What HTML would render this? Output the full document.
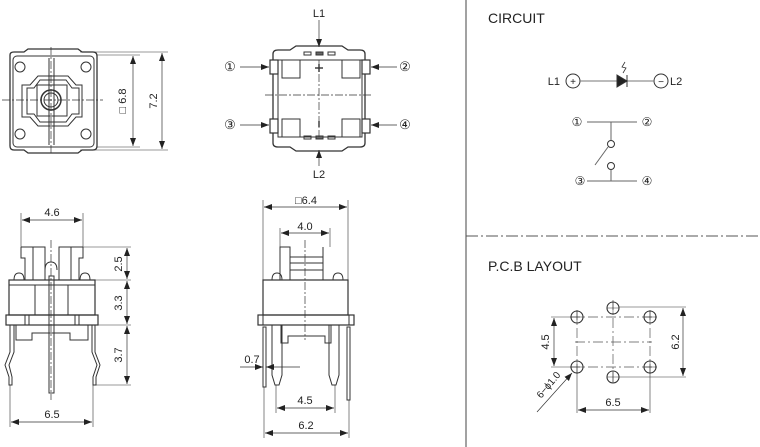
<!DOCTYPE html>
<html><head><meta charset="utf-8"><style>
html,body{margin:0;padding:0;background:#fff;}
svg{display:block;}
text{font-family:"Liberation Sans",sans-serif;fill:#222;}
</style></head><body>
<svg width="760" height="447" viewBox="0 0 760 447" xmlns="http://www.w3.org/2000/svg">
<defs>
<marker id="a" markerWidth="8" markerHeight="6" refX="8" refY="3" orient="auto-start-reverse" markerUnits="userSpaceOnUse"><path d="M0,0 L8,3 L0,6 z" fill="#222"/></marker>
</defs>
<g fill="none" stroke="#333" stroke-width="1">
<!-- dividers -->
<line x1="466" y1="0" x2="466" y2="447" stroke="#444"/>
<line x1="466" y1="236" x2="760" y2="236" stroke-dasharray="12,3,2,3" stroke="#555"/>

<!-- TOP VIEW LEFT -->
<path d="M10,55 Q10,52 14,52 L24,52 L28,49 L78,49 L82,52 L93,52 Q97,52 97,56 L97,146 Q97,150 93,150 L82,150 L78,153 L28,153 L24,150 L14,150 Q10,150 10,146 Z" stroke-width="1.3"/>
<rect x="13" y="56" width="81" height="91" rx="4"/>
<circle cx="20" cy="67" r="5"/><circle cx="86" cy="67" r="5"/>
<circle cx="20" cy="134" r="5"/><circle cx="86" cy="134" r="5"/>
<path d="M22,85 L30,85 L38,76 L68,76 L76,85 L82,85 L82,117 L76,117 L68,126 L38,126 L30,117 L22,117 Z"/>
<path d="M27,88 L34,88 L40,80 L66,80 L72,88 L79,88 L79,114 L72,114 L66,122 L40,122 L34,114 L27,114 Z"/>
<rect x="37" y="85" width="30" height="31"/>
<circle cx="51" cy="100" r="10" stroke-width="1.5"/>
<circle cx="51" cy="100" r="7"/>
<line x1="49" y1="58" x2="49" y2="145"/><line x1="54" y1="58" x2="54" y2="145"/>
<line x1="51" y1="47" x2="51" y2="155" stroke-dasharray="8,2,2,2" stroke-width="0.7"/>
<line x1="2" y1="100" x2="103" y2="100" stroke-dasharray="8,2,2,2" stroke-width="0.7"/>
<line x1="97" y1="55" x2="140" y2="55" stroke-width="0.6"/><line x1="97" y1="147" x2="140" y2="147" stroke-width="0.6"/>
<line x1="80" y1="52" x2="168" y2="52" stroke-width="0.6"/><line x1="80" y1="150" x2="168" y2="150" stroke-width="0.6"/>
<line x1="133" y1="56" x2="133" y2="146" marker-start="url(#a)" marker-end="url(#a)" stroke-width="0.7"/>
<line x1="162" y1="53" x2="162" y2="149" marker-start="url(#a)" marker-end="url(#a)" stroke-width="0.7"/>

<!-- TOP VIEW MIDDLE -->
<path d="M273,54 Q273,50 278,50 L290,50 L296,46 L342,46 L348,50 L360,50 Q365,50 365,54 L365,143 Q365,147 360,147 L348,147 L342,151 L296,151 L290,147 L278,147 Q273,147 273,143 Z" stroke-width="1.3"/>
<rect x="278" y="60" width="84" height="77"/>
<rect x="282" y="60" width="18" height="18"/><rect x="342" y="60" width="18" height="18"/>
<rect x="282" y="119" width="18" height="18"/><rect x="342" y="119" width="18" height="18"/>
<rect x="270" y="60" width="8" height="14" fill="#fff" stroke-width="1.2"/><rect x="362" y="60" width="8" height="14" fill="#fff" stroke-width="1.2"/>
<rect x="270" y="119" width="8" height="14" fill="#fff" stroke-width="1.2"/><rect x="362" y="119" width="8" height="14" fill="#fff" stroke-width="1.2"/>
<rect x="304" y="52" width="7" height="3"/><rect x="316" y="52" width="7" height="3" fill="#666"/><rect x="328" y="52" width="7" height="3"/>
<rect x="304" y="136" width="7" height="3"/><rect x="316" y="136" width="7" height="3" fill="#666"/><rect x="328" y="136" width="7" height="3"/>
<line x1="319" y1="60" x2="319" y2="137" stroke-dasharray="8,2,2,2" stroke-width="0.7"/>
<line x1="265" y1="95" x2="372" y2="95" stroke-dasharray="8,2,2,2" stroke-width="0.7"/>
<line x1="315" y1="68" x2="323" y2="68" stroke-width="1.4"/><line x1="319" y1="64" x2="319" y2="72" stroke-width="1.4"/>
<line x1="319" y1="121" x2="319" y2="127" stroke-width="1.4"/>
<line x1="319" y1="20" x2="319" y2="47" marker-end="url(#a)" stroke-width="0.7"/>
<line x1="319" y1="166" x2="319" y2="150" marker-end="url(#a)" stroke-width="0.7"/>
<line x1="240" y1="67" x2="269" y2="67" marker-end="url(#a)" stroke-width="0.7"/>
<line x1="240" y1="125" x2="269" y2="125" marker-end="url(#a)" stroke-width="0.7"/>
<line x1="397" y1="67" x2="371" y2="67" marker-end="url(#a)" stroke-width="0.7"/>
<line x1="397" y1="125" x2="371" y2="125" marker-end="url(#a)" stroke-width="0.7"/>

<!-- SIDE VIEW LEFT -->
<path d="M21,247 L45,247 L45,280 M21,247 L21,258 L25,258 L25,280 M83,247 L59,247 L59,280 M83,247 L83,258 L79,258 L79,280"/>
<line x1="33" y1="247" x2="33" y2="280"/><line x1="71" y1="247" x2="71" y2="280"/>
<path d="M45,270 Q45,262 51,262 Q57,262 57,270"/>
<path d="M14,280 Q14,273 19,273 Q24,273 24,280 M80,280 Q80,273 85,273 Q90,273 90,280"/>
<rect x="9" y="280" width="86" height="35" stroke-width="1.2"/>
<line x1="9" y1="285" x2="95" y2="285"/>
<line x1="35" y1="285" x2="35" y2="315"/><line x1="68" y1="285" x2="68" y2="315"/>
<rect x="6" y="315" width="92" height="10" stroke-width="1.2"/>
<line x1="25" y1="315" x2="25" y2="325"/><line x1="29" y1="315" x2="29" y2="325"/><line x1="75" y1="315" x2="75" y2="325"/><line x1="79" y1="315" x2="79" y2="325"/>
<path d="M16,325 L16,340 L32,340 L32,333 L70,333 L70,340 L88,340 L88,325"/>
<path d="M10,325 L10,352 L5,365 L9,377 L9,385 L12,385 L12,377 L9,365 L14,352 L14,325"/>
<path d="M92,325 L92,352 L97,365 L93,377 L93,385 L96,385 L96,377 L100,365 L95,352 L95,325"/>
<rect x="49" y="276" width="5" height="117"/>
<line x1="51" y1="240" x2="51" y2="400" stroke-dasharray="8,2,2,2" stroke-width="0.7"/>
<line x1="21" y1="213" x2="21" y2="247" stroke-width="0.6"/><line x1="83" y1="213" x2="83" y2="247" stroke-width="0.6"/>
<line x1="22" y1="220" x2="82" y2="220" marker-start="url(#a)" marker-end="url(#a)" stroke-width="0.7"/>
<line x1="10" y1="385" x2="10" y2="427" stroke-width="0.6"/><line x1="93" y1="385" x2="93" y2="427" stroke-width="0.6"/>
<line x1="11" y1="422" x2="92" y2="422" marker-start="url(#a)" marker-end="url(#a)" stroke-width="0.7"/>
<line x1="83" y1="247" x2="131" y2="247" stroke-width="0.6"/><line x1="95" y1="280" x2="131" y2="280" stroke-width="0.6"/>
<line x1="98" y1="325" x2="131" y2="325" stroke-width="0.6"/><line x1="96" y1="385" x2="131" y2="385" stroke-width="0.6"/>
<line x1="127" y1="248" x2="127" y2="279" marker-start="url(#a)" marker-end="url(#a)" stroke-width="0.7"/>
<line x1="127" y1="281" x2="127" y2="324" marker-start="url(#a)" marker-end="url(#a)" stroke-width="0.7"/>
<line x1="127" y1="326" x2="127" y2="384" marker-start="url(#a)" marker-end="url(#a)" stroke-width="0.7"/>

<!-- SIDE VIEW MIDDLE -->
<rect x="280" y="247" width="10" height="33"/>
<rect x="290" y="257" width="33" height="23"/>
<line x1="290" y1="263" x2="323" y2="263"/><line x1="290" y1="270" x2="323" y2="270"/>
<line x1="323" y1="247" x2="323" y2="257"/>
<path d="M272,280 Q272,273 277,273 Q282,273 282,280 M333,280 Q333,273 338,273 Q343,273 343,280"/>
<rect x="263" y="280" width="85" height="35" stroke-width="1.2"/>
<rect x="258" y="315" width="96" height="10" stroke-width="1.2"/>
<line x1="263" y1="315" x2="263" y2="325"/><line x1="349" y1="315" x2="349" y2="325"/>
<path d="M281,325 L281,343 L288,343 L288,336 L325,336 L325,343 L331,343 L331,325"/>
<path d="M272,325 L272,375 L275,385 L279,385 L282,375 L282,325"/>
<path d="M329,325 L329,375 L332,385 L336,385 L339,375 L339,325"/>
<rect x="263" y="327" width="3" height="60"/><rect x="347" y="327" width="3" height="73"/>
<line x1="305" y1="240" x2="305" y2="340" stroke-dasharray="8,2,2,2" stroke-width="0.7"/>
<line x1="263" y1="200" x2="263" y2="280" stroke-width="0.6"/><line x1="348" y1="200" x2="348" y2="280" stroke-width="0.6"/>
<line x1="264" y1="207" x2="347" y2="207" marker-start="url(#a)" marker-end="url(#a)" stroke-width="0.7"/>
<line x1="280" y1="228" x2="280" y2="247" stroke-width="0.6"/><line x1="330" y1="228" x2="330" y2="247" stroke-width="0.6"/>
<line x1="281" y1="233" x2="329" y2="233" marker-start="url(#a)" marker-end="url(#a)" stroke-width="0.7"/>
<line x1="240" y1="367" x2="263" y2="367" marker-end="url(#a)" stroke-width="0.7"/>
<line x1="300" y1="367" x2="266" y2="367" marker-end="url(#a)" stroke-width="0.7"/>
<line x1="276" y1="385" x2="276" y2="413" stroke-width="0.6"/><line x1="335" y1="385" x2="335" y2="413" stroke-width="0.6"/>
<line x1="277" y1="408" x2="334" y2="408" marker-start="url(#a)" marker-end="url(#a)" stroke-width="0.7"/>
<line x1="264" y1="387" x2="264" y2="438" stroke-width="0.6"/><line x1="349" y1="400" x2="349" y2="438" stroke-width="0.6"/>
<line x1="265" y1="433" x2="348" y2="433" marker-start="url(#a)" marker-end="url(#a)" stroke-width="0.7"/>

<!-- CIRCUIT -->
<circle cx="573" cy="81" r="7"/><circle cx="661" cy="81" r="7"/>
<line x1="580" y1="81" x2="654" y2="81" stroke="#777"/>
<path d="M617,75 L627,81 L617,87 Z" fill="#222"/><line x1="627" y1="75" x2="627" y2="87"/>
<path d="M625,62 L622,67 L626,68 L623,73" stroke-width="0.8"/>
<line x1="587" y1="122" x2="637" y2="122" stroke="#666"/>
<line x1="611" y1="122" x2="611" y2="140" stroke="#666"/>
<circle cx="611" cy="144" r="3.5"/>
<line x1="608" y1="147" x2="595" y2="165" stroke="#666"/>
<circle cx="611" cy="166" r="3.5"/>
<line x1="611" y1="170" x2="611" y2="181" stroke="#666"/>
<line x1="587" y1="181" x2="637" y2="181" stroke="#666"/>

<!-- PCB -->
<g stroke-dasharray="10,3,2,3" stroke-width="0.7" stroke="#555">
<line x1="570" y1="317" x2="657" y2="317"/><line x1="570" y1="367" x2="657" y2="367"/>
<line x1="575" y1="342" x2="652" y2="342"/>
<line x1="577" y1="310" x2="577" y2="374"/><line x1="650" y1="310" x2="650" y2="374"/>
<line x1="613" y1="300" x2="613" y2="384"/>
</g>
<g stroke-width="1.1">
<circle cx="577" cy="317" r="6"/><circle cx="613" cy="308" r="6"/><circle cx="650" cy="317" r="6"/>
<circle cx="577" cy="367" r="6"/><circle cx="613" cy="377" r="6"/><circle cx="650" cy="367" r="6"/>
</g>
<g stroke-width="0.5"><line x1="571" y1="317" x2="583" y2="317"/><line x1="577" y1="311" x2="577" y2="323"/><line x1="607" y1="308" x2="619" y2="308"/><line x1="613" y1="302" x2="613" y2="314"/><line x1="644" y1="317" x2="656" y2="317"/><line x1="650" y1="311" x2="650" y2="323"/><line x1="571" y1="367" x2="583" y2="367"/><line x1="577" y1="361" x2="577" y2="373"/><line x1="607" y1="377" x2="619" y2="377"/><line x1="613" y1="371" x2="613" y2="383"/><line x1="644" y1="367" x2="656" y2="367"/><line x1="650" y1="361" x2="650" y2="373"/></g>
<line x1="551" y1="317" x2="571" y2="317" stroke-width="0.6"/><line x1="551" y1="367" x2="571" y2="367" stroke-width="0.6"/>
<line x1="554" y1="318" x2="554" y2="366" marker-start="url(#a)" marker-end="url(#a)" stroke-width="0.7"/>
<line x1="619" y1="307" x2="686" y2="307" stroke-width="0.6"/><line x1="619" y1="377" x2="686" y2="377" stroke-width="0.6"/>
<line x1="683" y1="308" x2="683" y2="376" marker-start="url(#a)" marker-end="url(#a)" stroke-width="0.7"/>
<line x1="577" y1="373" x2="577" y2="413" stroke-width="0.6"/><line x1="650" y1="373" x2="650" y2="413" stroke-width="0.6"/>
<line x1="578" y1="410" x2="649" y2="410" marker-start="url(#a)" marker-end="url(#a)" stroke-width="0.7"/>
<line x1="537" y1="412" x2="572" y2="373" marker-end="url(#a)" stroke-width="0.7"/>
</g>

<!-- TEXT -->
<g font-size="11">
<text x="126" y="101" transform="rotate(-90 126 101)" text-anchor="middle">□ 6.8</text>
<text x="157" y="101" transform="rotate(-90 157 101)" text-anchor="middle">7.2</text>
<text x="319" y="17" text-anchor="middle">L1</text>
<text x="319" y="178" text-anchor="middle">L2</text>
<text x="230" y="71" text-anchor="middle" font-size="13">①</text>
<text x="405" y="71" text-anchor="middle" font-size="13">②</text>
<text x="230" y="129" text-anchor="middle" font-size="13">③</text>
<text x="405" y="129" text-anchor="middle" font-size="13">④</text>
<text x="52" y="216" text-anchor="middle">4.6</text>
<text x="52" y="418" text-anchor="middle">6.5</text>
<text x="122" y="264" transform="rotate(-90 122 264)" text-anchor="middle">2.5</text>
<text x="122" y="303" transform="rotate(-90 122 303)" text-anchor="middle">3.3</text>
<text x="122" y="355" transform="rotate(-90 122 355)" text-anchor="middle">3.7</text>
<text x="306" y="204" text-anchor="middle">□6.4</text>
<text x="305" y="230" text-anchor="middle">4.0</text>
<text x="252" y="363" text-anchor="middle">0.7</text>
<text x="305" y="404" text-anchor="middle">4.5</text>
<text x="306" y="429" text-anchor="middle">6.2</text>
<text x="488" y="23" font-size="14">CIRCUIT</text>
<text x="560" y="85" text-anchor="end">L1</text>
<text x="573" y="85" text-anchor="middle" font-size="10">+</text>
<text x="661" y="85" text-anchor="middle" font-size="10">−</text>
<text x="670" y="85">L2</text>
<text x="577" y="126" text-anchor="middle" font-size="12">①</text>
<text x="647" y="126" text-anchor="middle" font-size="12">②</text>
<text x="580" y="185" text-anchor="middle" font-size="12">③</text>
<text x="647" y="185" text-anchor="middle" font-size="12">④</text>
<text x="488" y="271" font-size="14">P.C.B LAYOUT</text>
<text x="549" y="342" transform="rotate(-90 549 342)" text-anchor="middle">4.5</text>
<text x="679" y="342" transform="rotate(-90 679 342)" text-anchor="middle">6.2</text>
<text x="613" y="406" text-anchor="middle">6.5</text>
<text x="551" y="387" transform="rotate(-50 551 387)" text-anchor="middle" font-size="10">6−ϕ1.0</text>
</g>
</svg>
</body></html>
